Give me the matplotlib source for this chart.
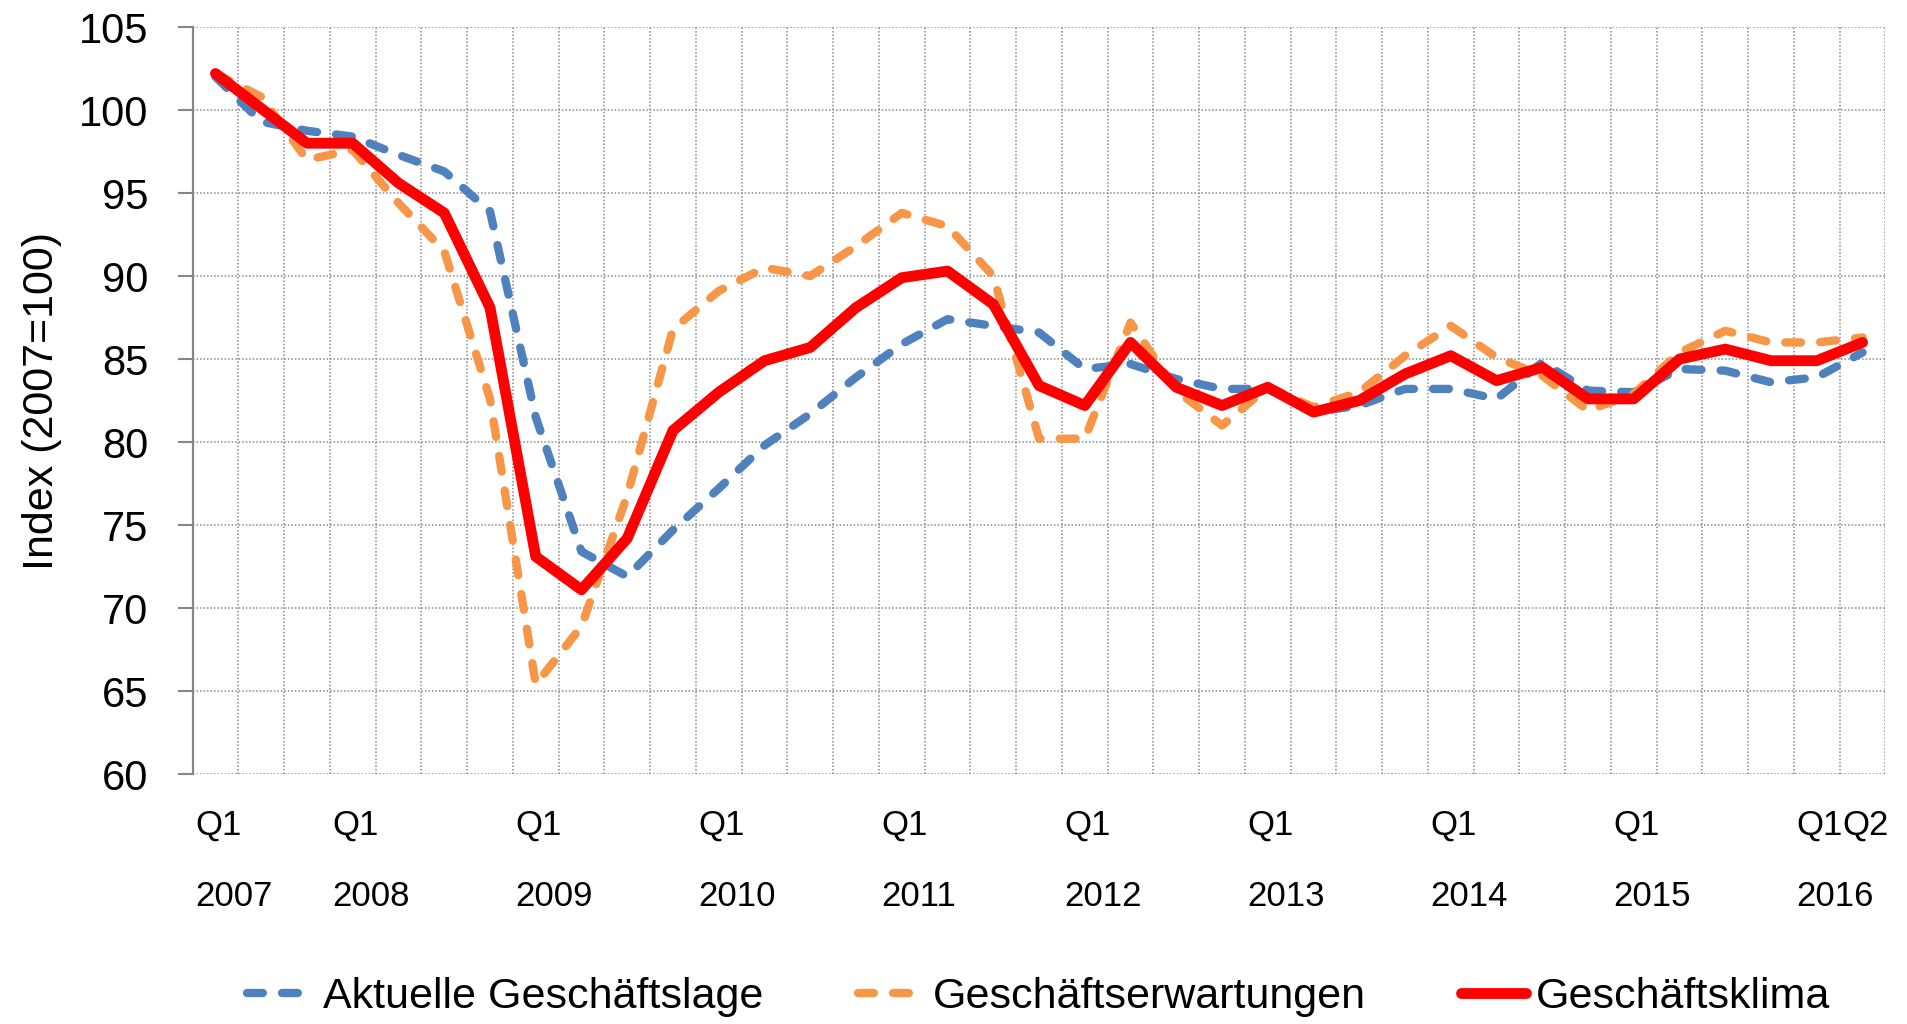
import numpy as np
import matplotlib
matplotlib.use('Agg')
import matplotlib.pyplot as plt
import matplotlib.transforms as mtransforms

# Daten (Index 2007=100), quartalsweise
lage = [102.0, 99.3, 98.75, 98.4, 97.3, 96.3, 93.9, 81.5, 73.4, 71.9,
        74.7, 77.2, 79.8, 81.7, 83.9, 85.9, 87.4, 87.0, 86.6, 84.4,
        84.7, 83.8, 83.2, 83.2, 81.8, 82.2, 83.2, 83.2, 82.6, 84.8,
        83.1, 83.0, 84.4, 84.3, 83.6, 83.9, 85.4]
erwartungen = [102.2, 100.8, 97.0, 97.6, 94.4, 91.5, 82.6, 65.4, 68.9, 76.8,
               86.8, 89.1, 90.5, 90.0, 91.8, 93.8, 93.0, 90.0, 80.2, 80.2,
               87.2, 83.1, 81.0, 83.3, 82.1, 83.0, 85.2, 87.0, 85.1, 84.0,
               81.9, 82.9, 85.4, 86.7, 86.0, 86.0, 86.3]
klima = [102.2, 100.1, 98.0, 98.0, 95.6, 93.8, 88.1, 73.1, 71.1, 74.2,
         80.7, 83.0, 84.9, 85.7, 88.1, 89.9, 90.3, 88.3, 83.4, 82.2,
         86.0, 83.3, 82.2, 83.3, 81.8, 82.5, 84.1, 85.2, 83.7, 84.5,
         82.6, 82.6, 85.0, 85.6, 84.9, 84.9, 86.0]

# Achsenbeschriftung
label_pos = [0, 3, 7, 11, 15, 19, 23, 27, 31, 35, 36]
label_q = ['Q1', 'Q1', 'Q1', 'Q1', 'Q1', 'Q1', 'Q1', 'Q1', 'Q1', 'Q1', 'Q2']
label_year = ['2007', '2008', '2009', '2010', '2011', '2012', '2013',
              '2014', '2015', '2016', '']
yticks = [60, 65, 70, 75, 80, 85, 90, 95, 100, 105]

plt.rcParams['font.family'] = ['Liberation Sans', 'DejaVu Sans']

fig = plt.figure(figsize=(19.07, 10.24), dpi=100)
ax = fig.add_axes([0.101, 0.2441, 0.8877, 0.7295])

x = np.arange(len(klima))
ax.plot(x, lage, color='#4F81BD', lw=6.0, ls=(0, (1.9, 2.3)),
        dash_capstyle='round', label='Aktuelle Geschäftslage', zorder=3)
ax.plot(x, erwartungen, color='#F79646', lw=6.0, ls=(0, (1.9, 2.3)),
        dash_capstyle='round', label='Geschäftserwartungen', zorder=4)
ax.plot(x, klima, color='#FF0000', lw=7.8, solid_capstyle='round',
        label='Geschäftsklima', zorder=5)

# Achsen
ax.set_xlim(-0.5, len(klima) - 0.5)
ax.set_ylim(60, 105)
ax.set_yticks(yticks)
ax.set_yticklabels([str(v) for v in yticks], fontsize=30)
ax.set_xticks(np.arange(-0.5, len(klima), 1.0))
ax.set_xticklabels([])
ax.tick_params(axis='x', length=0)
ax.tick_params(axis='y', length=11, width=1.5, color='#868686', pad=21)
ax.grid(True, color='#8a8a8a', lw=1.1, ls=(0, (1, 1.3)))
ax.set_axisbelow(True)
for s in ['top', 'right', 'bottom']:
    ax.spines[s].set_visible(False)
ax.spines['left'].set_color('#868686')
ax.spines['left'].set_linewidth(1.6)
ax.set_ylabel('Index (2007=100)', fontsize=31, labelpad=12)

trans = mtransforms.blended_transform_factory(ax.transData, ax.transAxes)
for p, q, yr in zip(label_pos, label_q, label_year):
    ax.text(p - 0.45, -0.0817, q, transform=trans, ha='left', va='baseline', fontsize=25)
    ax.text(p - 0.45, -0.177, yr, transform=trans, ha='left', va='baseline', fontsize=25)

ax.legend(loc='center', bbox_to_anchor=(0.5, -0.2985), ncol=3, frameon=False,
          fontsize=31, handlelength=1.5, handletextpad=0.25, columnspacing=2.2)

plt.savefig('out.png', dpi=100)
